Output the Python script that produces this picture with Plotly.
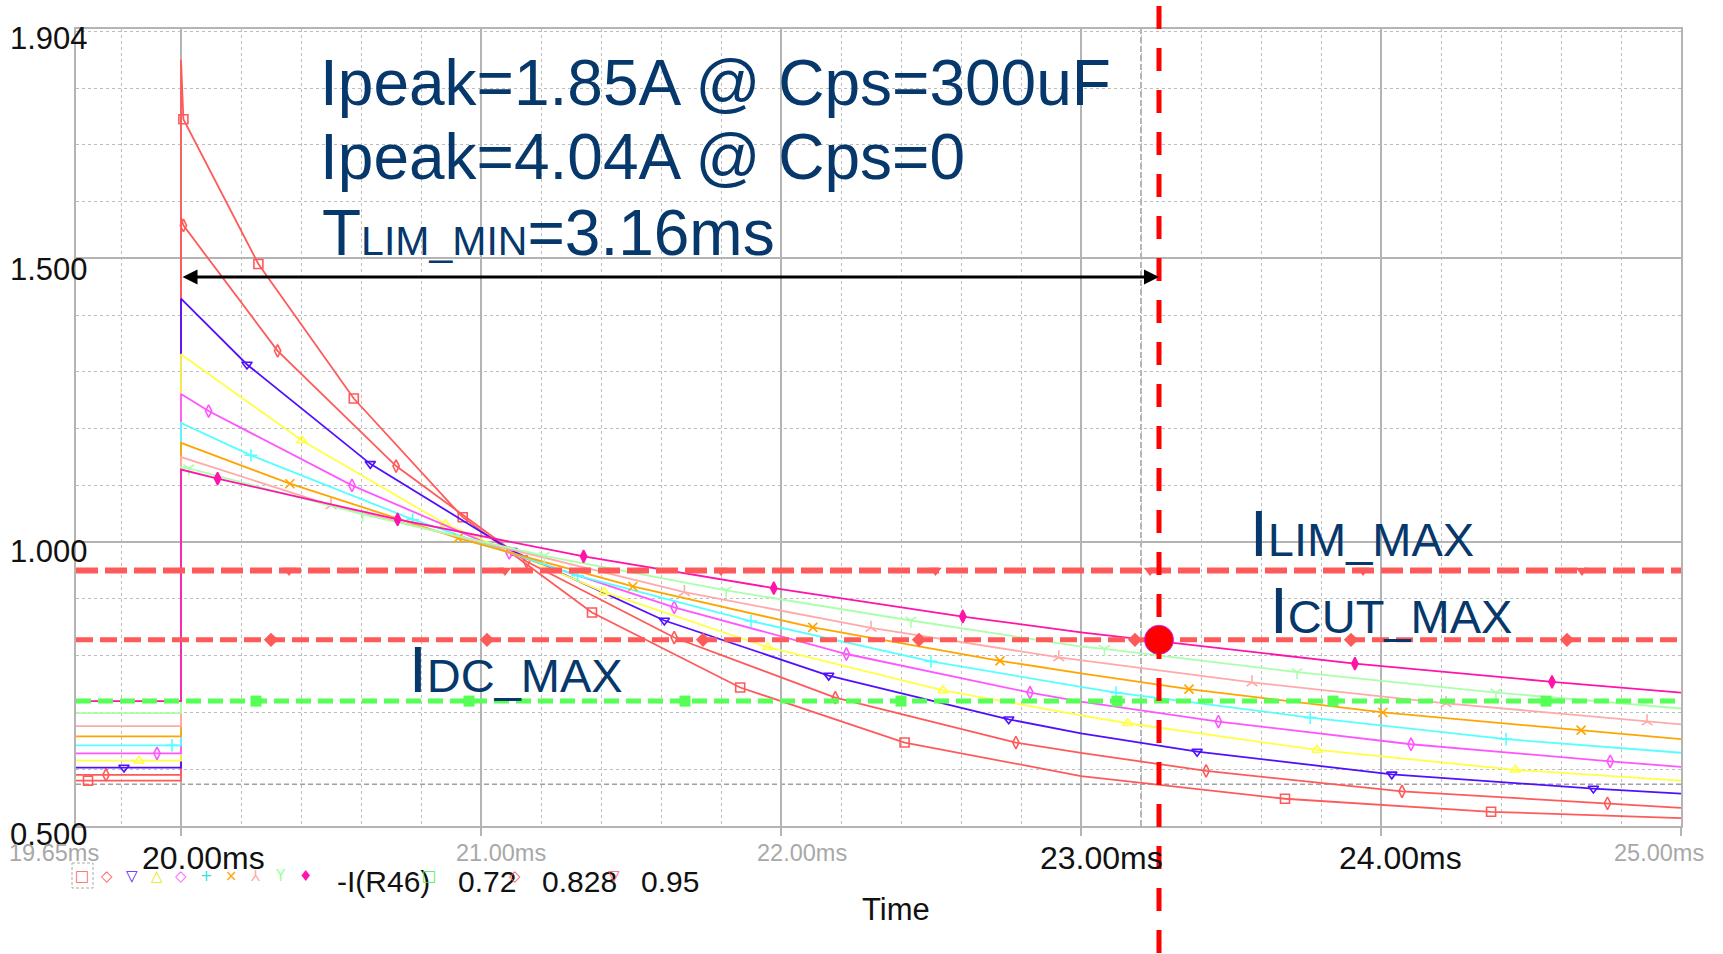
import plotly.graph_objects as go

# ------------------------------------------------------------------ data
# time in ms, current in A
t_s1 = [19.65, 19.69, 20.0, 20.0, 20.008, 20.258, 20.576, 20.939, 21.37, 21.864, 22.412, 23.0, 23.68, 24.367, 25.0]
v_s1 = [0.580, 0.580, 0.580, 1.85, 1.745, 1.49, 1.253, 1.044, 0.876, 0.744, 0.647, 0.588, 0.548, 0.525, 0.514]

t_s2 = [19.65, 19.75, 20.0, 20.0, 20.008, 20.322, 20.717, 21.152, 21.644, 22.181, 22.783, 23.0, 23.417, 24.07, 24.755, 25.0]
v_s2 = [0.590, 0.590, 0.590, 1.572, 1.558, 1.337, 1.134, 0.966, 0.832, 0.726, 0.647, 0.629, 0.597, 0.561, 0.540, 0.532]

t_s3 = [19.65, 19.81, 20.0, 20.0, 20.22, 20.631, 21.103, 21.611, 22.159, 22.759, 23.0, 23.387, 24.036, 24.708, 25.0]
v_s3 = [0.603, 0.603, 0.603, 1.429, 1.313, 1.138, 0.985, 0.862, 0.765, 0.688, 0.663, 0.631, 0.591, 0.566, 0.557]

t_s4 = [19.65, 19.86, 20.0, 20.0, 20.403, 20.881, 21.411, 21.956, 22.54, 23.0, 23.156, 23.787, 24.448, 25.0]
v_s4 = [0.615, 0.615, 0.615, 1.331, 1.179, 1.032, 0.912, 0.815, 0.739, 0.695, 0.681, 0.634, 0.599, 0.580]

t_s5 = [19.65, 19.92, 20.0, 20.0, 20.092, 20.57, 21.094, 21.644, 22.218, 22.83, 23.0, 23.458, 24.1, 24.764, 25.0]
v_s5 = [0.628, 0.628, 0.628, 1.261, 1.231, 1.10, 0.981, 0.885, 0.803, 0.735, 0.719, 0.684, 0.644, 0.614, 0.604]

t_s6 = [19.65, 19.97, 20.0, 20.0, 20.233, 20.772, 21.322, 21.9, 22.5, 23.0, 23.117, 23.764, 24.417, 25.0]
v_s6 = [0.642, 0.642, 0.642, 1.21, 1.153, 1.04, 0.941, 0.861, 0.79, 0.745, 0.735, 0.691, 0.653, 0.629]

t_s7 = [19.65, 20.0, 20.0, 20.363, 20.924, 21.506, 22.106, 22.73, 23.0, 23.36, 24.006, 24.667, 25.0]
v_s7 = [0.658, 0.658, 1.175, 1.103, 1.007, 0.922, 0.85, 0.791, 0.769, 0.741, 0.70, 0.669, 0.653]

t_s8 = [19.65, 20.0, 20.0, 20.5, 21.678, 22.3, 22.926, 23.57, 24.217, 24.887, 25.0]
v_s8 = [0.676, 0.676, 1.15, 1.065, 0.912, 0.849, 0.797, 0.753, 0.716, 0.684, 0.679]

t_s9 = [19.65, 20.0, 20.0, 20.026, 20.606, 21.211, 21.817, 22.433, 23.0, 23.078, 23.72, 24.383, 25.0]
v_s9 = [0.699, 0.699, 1.132, 1.13, 1.049, 0.976, 0.915, 0.862, 0.816, 0.812, 0.771, 0.735, 0.707]

t_s10 = [19.65, 20.0, 20.0, 20.122, 20.722, 21.342, 21.976, 22.606, 23.0, 23.913, 24.57, 25.0]
v_s10 = [0.72, 0.72, 1.128, 1.112, 1.04, 0.975, 0.919, 0.869, 0.841, 0.786, 0.754, 0.735]

# threshold levels (A)
I_LIM_MAX = 0.95
I_CUT_MAX = 0.828
I_DC_MAX = 0.72
ilim_mark_t = [20.36, 21.08, 21.80, 22.515, 23.23, 23.94, 24.67]
icut_mark_t = [20.30, 21.02, 21.74, 22.46, 23.18, 23.90, 24.62]
idc_mark_t = [20.25, 20.96, 21.68, 22.40, 23.12, 23.84, 24.55]

T_START = 20.0        # ms, start of the step
T_MARK = 23.26        # ms, red vertical marker
ARROW_LEVEL = 1.467   # A
CURSOR_T = 23.2       # ms, grey cursor
CURSOR_V = 0.5735     # A, grey cursor

X_RANGE = [19.65, 25.0]
Y_RANGE = [0.5, 1.904]
x_major = [20, 21, 22, 23, 24, 25]
x_tick_text = ["19.65ms", "20.00ms", "21.00ms", "22.00ms", "23.00ms", "24.00ms", "25.00ms"]
y_tick_text = ["1.904", "1.500", "1.000", "0.500"]

# ------------------------------------------------------------------ layout constants
W, H = 1723, 954
L, R, T, B = 76, 1681, 29, 826
FONT = "Liberation Sans, Arial, sans-serif"
NAVY = "#06386b"
GRID = "#b4b4b4"


def px(xp):
    return (xp - L) / (R - L)


def py(yp):
    return (B - yp) / (B - T)


styles = [
    ("#ff5a5a", "square-open"),
    ("#ff5a5a", "diamond-tall-open"),
    ("#5010ff", "triangle-down-open"),
    ("#ffff44", "triangle-up-open"),
    ("#ff55ff", "diamond-tall-open"),
    ("#55ffff", "cross-thin-open"),
    ("#ffa500", "x-thin-open"),
    ("#ffaaaa", "y-up-open"),
    ("#aaffaa", "y-down-open"),
    ("#ff14aa", "diamond-tall"),
]
data = [(t_s1, v_s1), (t_s2, v_s2), (t_s3, v_s3), (t_s4, v_s4), (t_s5, v_s5),
        (t_s6, v_s6), (t_s7, v_s7), (t_s8, v_s8), (t_s9, v_s9), (t_s10, v_s10)]
NO_MARK = {19.65, 20.0, 23.0, 25.0}

fig = go.Figure()

for (tt, vv), (col, sym) in zip(data, styles):
    fig.add_trace(go.Scatter(x=tt, y=vv, mode="lines", line=dict(color=col, width=1.8),
                             showlegend=False, hoverinfo="skip"))
    mt = [a for a in tt if a not in NO_MARK]
    mv = [b for a, b in zip(tt, vv) if a not in NO_MARK]
    fig.add_trace(go.Scatter(x=mt, y=mv, mode="markers",
                             marker=dict(symbol=sym, size=9, color=col,
                                         line=dict(color=col, width=1.6)),
                             showlegend=False, hoverinfo="skip"))

# threshold dashed lines
for lvl, col, dash, wid, mk_t, sym in [
    (I_LIM_MAX, "#ff5a5a", "22px,7px", 6, ilim_mark_t, "triangle-down"),
    (I_CUT_MAX, "#ff5a5a", "17px,7px", 5, icut_mark_t, "diamond"),
    (I_DC_MAX, "#55ff55", "15px,7px", 5, idc_mark_t, "square"),
]:
    fig.add_trace(go.Scatter(x=X_RANGE, y=[lvl, lvl], mode="lines",
                             line=dict(color=col, width=wid, dash=dash),
                             showlegend=False, hoverinfo="skip"))
    fig.add_trace(go.Scatter(x=mk_t, y=[lvl] * len(mk_t), mode="markers",
                             marker=dict(symbol=sym, size=11, color=col),
                             showlegend=False, hoverinfo="skip"))

# big red dot
fig.add_trace(go.Scatter(x=[T_MARK], y=[I_CUT_MAX], mode="markers",
                         marker=dict(size=29, color="#ff0000", line=dict(color="#cc22ff", width=1)),
                         showlegend=False, hoverinfo="skip"))

shapes = [
    # grey cursor crosshair
    dict(type="line", xref="x", yref="paper", x0=CURSOR_T, x1=CURSOR_T, y0=0, y1=1,
         line=dict(color="#9a9a9a", width=1.5, dash="6px,3px"), layer="below"),
    dict(type="line", xref="paper", yref="y", x0=0, x1=1, y0=CURSOR_V, y1=CURSOR_V,
         line=dict(color="#a0a0a0", width=1.5, dash="5px,3px"), layer="below"),
    # red vertical marker extends over whole picture
    dict(type="line", xref="x", yref="paper", x0=T_MARK, x1=T_MARK, y0=py(6), y1=py(960),
         line=dict(color="#ff0000", width=5, dash="23px,19px"), layer="above"),
    # dashed box around first legend glyph
    dict(type="rect", xref="paper", yref="paper", x0=px(72), x1=px(93), y0=py(863), y1=py(888),
         line=dict(color="#aaaaaa", width=1, dash="3px,2px")),
]

ann = []


def text(t, xp, yp, size, color="#111111", xanchor="left", family=FONT):
    ann.append(dict(text=t, x=px(xp), y=py(yp), xref="paper", yref="paper",
                    xanchor=xanchor, yanchor="middle", showarrow=False,
                    font=dict(size=size, color=color, family=family)))


# big annotation text
text("Ipeak=1.85A @ Cps=300uF", 318, 83, 64, NAVY)
text("Ipeak=4.04A @ Cps=0", 318, 157, 64, NAVY)
text("T<span style='font-size:41px'>LIM_MIN</span>=3.16ms", 320, 233, 64, NAVY)
text("I<span style='font-size:47px'>LIM_MAX</span>", 1248, 534, 64, NAVY)
text("I<span style='font-size:47px'>CUT_MAX</span>", 1268, 611, 64, NAVY)
text("I<span style='font-size:47px'>DC_MAX</span>", 407, 670, 64, NAVY)

# y tick labels
for lab, yc in zip(y_tick_text, [38, 269, 551, 834]):
    text(lab, 90, yc, 31, "#111111", xanchor="right")

# x tick labels (mixed styles)
x_lab_pos = [(54, 853, 23.5, "#a8a8a8"), (203, 858, 32, "#111111"), (501, 853, 23.5, "#a8a8a8"),
             (802, 853, 23.5, "#a8a8a8"), (1101, 858, 32, "#111111"), (1400, 858, 32, "#111111"),
             (1659, 853, 23.5, "#a8a8a8")]
for lab, (xc, yc, sz, col) in zip(x_tick_text, x_lab_pos):
    text(lab, xc, yc, sz, col, xanchor="center")

text("Time", 896, 909, 31, "#111111", xanchor="center")

# bottom legend row
glyphs = [("□", "#ff5a5a"), ("◇", "#ff5a5a"), ("▽", "#5010ff"), ("△", "#e8e800"), ("◇", "#ff55ff"),
          ("+", "#33e0e0"), ("×", "#ffa500"), ("⅄", "#ffaaaa"), ("Y", "#99ff99"), ("♦", "#ff14aa")]
for (g, col), xc in zip(glyphs, [82, 107, 132, 157, 181, 206, 231, 255, 280, 305]):
    text(g, xc, 876, 15, col, xanchor="center", family="DejaVu Sans")
text("-I(R46)", 335, 881, 30)
text(str(I_DC_MAX), 456, 881, 30)
text(str(I_CUT_MAX), 540, 881, 30)
text(str(I_LIM_MAX), 639, 881, 30)
text("□", 429, 876, 15, "#44ee44", xanchor="center", family="DejaVu Sans")
text("◇", 515, 876, 15, "#ff5a5a", xanchor="center", family="DejaVu Sans")
text("▽", 614, 876, 15, "#ff5a5a", xanchor="center", family="DejaVu Sans")

# double-headed arrow for T_LIM_MIN
ann.append(dict(x=T_MARK, y=ARROW_LEVEL, ax=T_START, ay=ARROW_LEVEL, xref="x", yref="y",
                axref="x", ayref="y", text="", showarrow=True, arrowside="end+start",
                arrowhead=2, startarrowhead=2, arrowsize=1, startarrowsize=1,
                arrowwidth=3, arrowcolor="#000000"))

fig.update_layout(
    width=W, height=H,
    margin=dict(l=L, r=W - R, t=T, b=H - B, pad=0),
    paper_bgcolor="white", plot_bgcolor="white",
    shapes=shapes, annotations=ann, showlegend=False,
    xaxis=dict(range=X_RANGE, tickvals=x_major, showticklabels=False,
               showgrid=True, gridcolor=GRID, gridwidth=1.5, zeroline=False,
               showline=True, mirror=True, linecolor=GRID, linewidth=2,
               ticks="outside", ticklen=8, tickcolor=GRID, tickwidth=1.5,
               minor=dict(dtick=0.2, tick0=19.8, showgrid=True, griddash="dot",
                          gridcolor="#bdbdbd", gridwidth=1)),
    yaxis=dict(range=Y_RANGE, tickvals=[0.5, 1.0, 1.5], showticklabels=False,
               showgrid=True, gridcolor=GRID, gridwidth=1.5, zeroline=False,
               showline=True, mirror=True, linecolor=GRID, linewidth=2,
               minor=dict(dtick=0.1, tick0=0.5, showgrid=True, griddash="dot",
                          gridcolor="#bdbdbd", gridwidth=1)),
)

fig.write_html("out.html")
